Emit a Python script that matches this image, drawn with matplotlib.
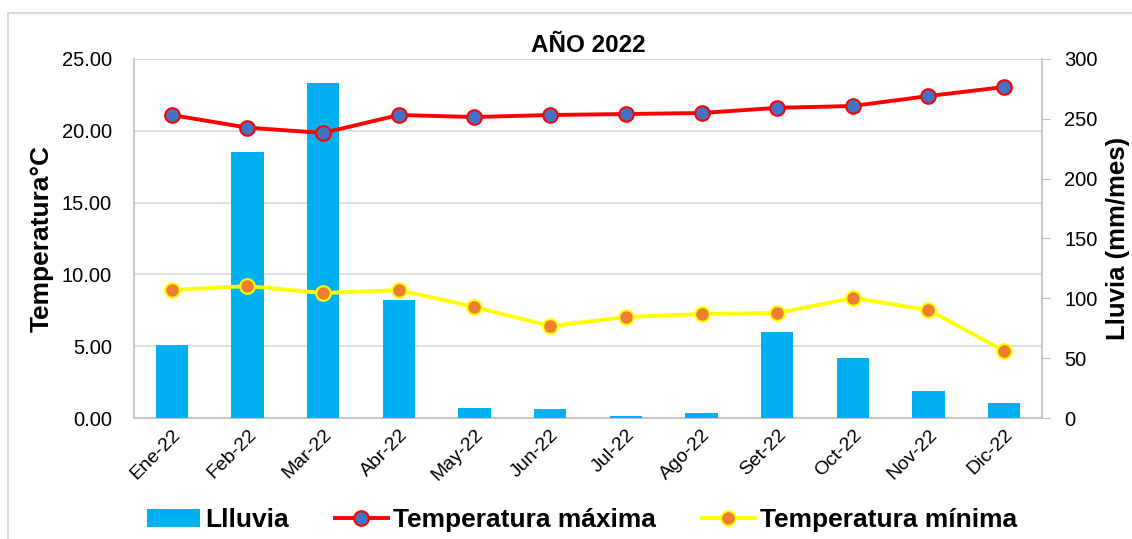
import matplotlib.pyplot as plt
from matplotlib.lines import Line2D
import numpy as np

meses = ['Ene-22', 'Feb-22', 'Mar-22', 'Abr-22', 'May-22', 'Jun-22',
         'Jul-22', 'Ago-22', 'Set-22', 'Oct-22', 'Nov-22', 'Dic-22']
lluvia = [61, 222, 280, 98.5, 8.4, 7.5, 1.5, 4, 71.5, 50.5, 22.5, 12.5]  # mm/mes
t_max = [21.10, 20.22, 19.85, 21.10, 20.96, 21.10, 21.17, 21.24, 21.60, 21.73, 22.42, 23.05]
t_min = [8.91, 9.19, 8.70, 8.91, 7.73, 6.40, 7.03, 7.24, 7.31, 8.36, 7.52, 4.67]

fig = plt.figure(figsize=(11.32, 5.39), dpi=100)
plt.rcParams['font.family'] = ['Liberation Sans', 'DejaVu Sans']

# marco exterior (solo arriba e izquierda visibles)
fig.add_artist(Line2D([8/1132, 8/1132], [0, 1 - 13/539], color='#d9d9d9', lw=1.5))
fig.add_artist(Line2D([8/1132, 1], [1 - 13/539, 1 - 13/539], color='#d9d9d9', lw=1.5))

rect = [134/1132, 1 - 418/539, (1042 - 134)/1132, (418 - 59)/539]
ax1 = fig.add_axes(rect)  # temperatura: grid
ax2 = ax1.twinx()  # lluvia: barras
ax3 = ax1.twinx()  # temperatura: lineas

x = np.arange(len(meses))

ax1.set_ylim(0, 25)
ax1.set_yticks(np.arange(0, 26, 5))
ax1.set_yticklabels([f'{v:.2f}' for v in np.arange(0, 26, 5)], fontsize=14.5)
ax1.yaxis.grid(True, color='#d9d9d9', lw=1.2)
ax1.set_axisbelow(True)
ax1.tick_params(axis='y', length=0, pad=16)
ax1.tick_params(axis='x', length=0, pad=6)
ax1.set_xlim(-0.5, len(meses) - 0.5)
ax1.set_xticks(x)
ax1.set_xticklabels(meses, rotation=45, ha='right', rotation_mode='anchor', fontsize=14)
ax1.set_ylabel('Temperatura°C', fontsize=19, fontweight='bold', labelpad=6)
for s in ['top', 'right']:
    ax1.spines[s].set_visible(False)
for s in ['left', 'bottom']:
    ax1.spines[s].set_color('#bfbfbf')
    ax1.spines[s].set_linewidth(1.2)

bars = ax2.bar(x, lluvia, width=0.43, color='#00b0f0', label='Llluvia')
ax2.set_ylim(0, 300)
ax2.set_yticks(np.arange(0, 301, 50))
ax2.tick_params(axis='y', labelsize=14.5, length=6, color='#bfbfbf', pad=10)
ax2.set_ylabel('Lluvia (mm/mes)', fontsize=18.5, fontweight='bold', labelpad=6)
for s in ['top', 'left', 'bottom']:
    ax2.spines[s].set_visible(False)
ax2.spines['right'].set_color('#bfbfbf')
ax2.spines['right'].set_linewidth(1.2)

l1, = ax3.plot(x, t_max, color='#ff0000', lw=2.8, marker='o', markersize=10.5,
               markerfacecolor='#4472c4', markeredgecolor='#ff0000', markeredgewidth=1.5,
               label='Temperatura máxima')
l2, = ax3.plot(x, t_min, color='#ffff00', lw=2.8, marker='o', markersize=10.5,
               markerfacecolor='#ed7d31', markeredgecolor='#ffff00', markeredgewidth=1.5,
               label='Temperatura mínima')
ax3.set_ylim(0, 25)
ax3.axis('off')

ax1.set_title('AÑO 2022', fontsize=17.5, fontweight='bold', pad=5)

fig.legend(handles=[bars, l1, l2], loc='center', bbox_to_anchor=(582/1132, 1 - 520/539),
           ncol=3, frameon=False, prop={'size': 19, 'weight': 'bold'},
           handlelength=2.0, columnspacing=1.75, handletextpad=0.2)

fig.savefig('out.png', dpi=100)
